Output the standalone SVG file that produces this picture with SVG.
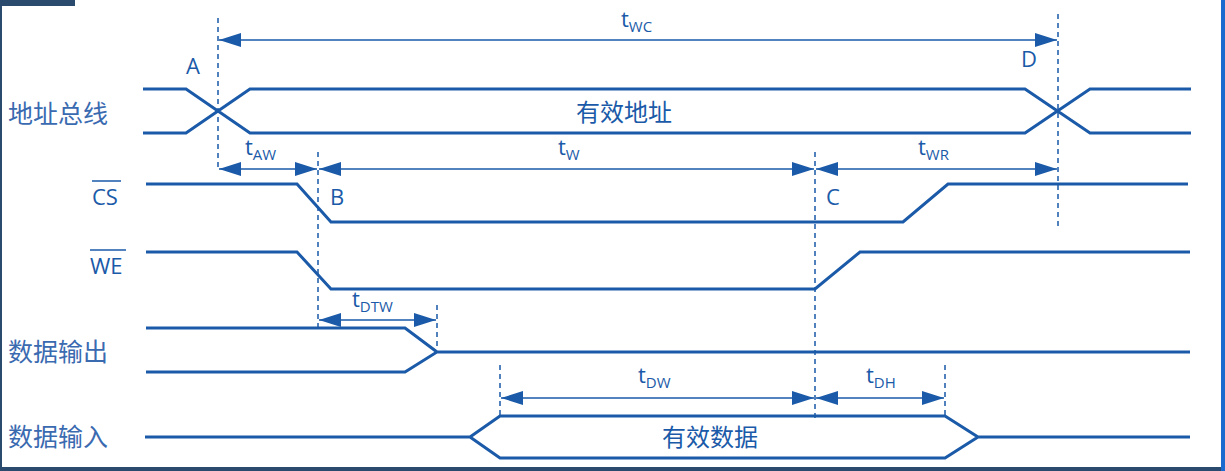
<svg xmlns="http://www.w3.org/2000/svg" width="1225" height="471" viewBox="0 0 1225 471">
<style>
.s{fill:none;stroke:#1a5aa8;stroke-width:3;stroke-linejoin:miter}
.d{stroke:#1a5aa8;stroke-width:1.5;stroke-dasharray:5,4}
.a{stroke:#1a5aa8;stroke-width:1.5;marker-start:url(#ah);marker-end:url(#ah)}
text{font-family:"Open Sans","Noto Sans CJK SC",sans-serif;fill:#1a5aa8;font-size:22px}
.c{fill:#3a6ab0;font-size:25px}
.m{font-size:24px}
.sub{font-size:15px}
</style>
<defs><marker id="ah" viewBox="0 0 22 14" refX="22" refY="7" markerWidth="22" markerHeight="14" markerUnits="userSpaceOnUse" orient="auto-start-reverse"><path d="M0,0L22,7L0,14z" fill="#1a5aa8"/></marker></defs>
<rect width="1225" height="471" fill="#fff"/>
<rect x="0" y="0" width="75" height="6" fill="#2a4a6e"/>
<rect x="0" y="0" width="2" height="471" fill="#2a4a6e"/>
<rect x="0" y="467" width="1225" height="4" fill="#2a4a6e"/>
<rect x="1221" y="0" width="4" height="471" fill="#1a6ad0"/>
<g id="labels">
<text class="c" x="8" y="123">地址总线</text>
<text class="c" x="8" y="361">数据输出</text>
<text class="c" x="8" y="446">数据输入</text>
<text x="92" y="205">CS</text><line x1="92" y1="181" x2="121" y2="181" stroke="#1a5aa8" stroke-width="1.5"/>
<text x="90" y="274">WE</text><line x1="90" y1="250" x2="126" y2="250" stroke="#1a5aa8" stroke-width="1.5"/>
<text x="186" y="74">A</text><text x="1021" y="67">D</text>
<text x="330" y="205">B</text><text x="826" y="205">C</text>
<text class="m" x="576" y="121">有效地址</text>
<text class="m" x="662" y="446">有效数据</text>
<text x="621" y="27">t<tspan class="sub" dy="5">WC</tspan></text>
<text x="245" y="155">t<tspan class="sub" dy="5">AW</tspan></text>
<text x="558" y="155">t<tspan class="sub" dy="5">W</tspan></text>
<text x="918" y="155">t<tspan class="sub" dy="5">WR</tspan></text>
<text x="352" y="307">t<tspan class="sub" dy="5">DTW</tspan></text>
<text x="638" y="383">t<tspan class="sub" dy="5">DW</tspan></text>
<text x="866" y="383">t<tspan class="sub" dy="5">DH</tspan></text>
</g>
<g id="addr"><path class="s" d="M143,89H186L250,133H1025L1090,89H1191M143,133H186L250,89H1025L1090,133H1191"/></g>
<g id="cs"><path class="s" d="M146,184H297L331,222H903L948,184H1188"/></g>
<g id="we"><path class="s" d="M146,252H297L331,289H815L860,252H1190"/></g>
<g id="dout"><path class="s" d="M146,328H405L437,352L405,372H146M437,352H1190"/></g>
<g id="din"><path class="s" d="M145,437H470L500,416H945L978,437L945,458H500L470,437M978,437H1190"/></g>
<g id="connectors">
<line class="d" x1="218" y1="18" x2="218" y2="170"/>
<line class="d" x1="1058" y1="14" x2="1058" y2="226"/>
<line class="d" x1="318" y1="152" x2="318" y2="330"/>
<line class="d" x1="815" y1="152" x2="815" y2="420"/>
<line class="d" x1="437" y1="305" x2="437" y2="350"/>
<line class="d" x1="500" y1="365" x2="500" y2="418"/>
<line class="d" x1="945" y1="365" x2="945" y2="418"/>
<line class="a" x1="219" y1="40" x2="1057" y2="40"/>
<line class="a" x1="219" y1="169" x2="317" y2="169"/>
<line class="a" x1="319" y1="169" x2="814" y2="169"/>
<line class="a" x1="816" y1="169" x2="1057" y2="169"/>
<line class="a" x1="319" y1="320" x2="436" y2="320"/>
<line class="a" x1="501" y1="398" x2="814" y2="398"/>
<line class="a" x1="816" y1="398" x2="944" y2="398"/>
</g>
</svg>
